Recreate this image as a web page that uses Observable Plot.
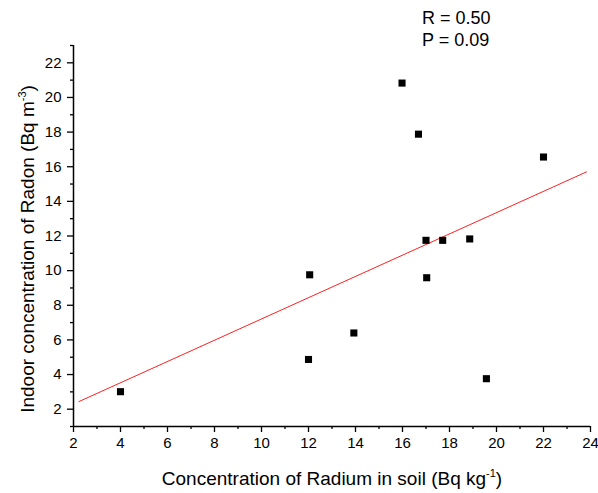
<!DOCTYPE html>
<html>
<head>
<meta charset="utf-8">
<script src="https://cdn.jsdelivr.net/npm/d3@7"></script>
<script src="https://cdn.jsdelivr.net/npm/@observablehq/plot@0.6"></script>
<style>
  html, body { margin: 0; padding: 0; background: #fff; }
  #chart svg { display: block; }
</style>
</head>
<body>
<div id="chart"></div>
<script>
// Concentration of Radium in soil (Bq kg-1)
const radium = [4.0, 12.0, 12.05, 13.93, 15.98, 16.68, 17.0, 17.03, 17.71, 18.86, 19.57, 22.0];
// Indoor concentration of Radon (Bq m-3)
const radon  = [3.01, 4.87, 9.76, 6.40, 20.83, 17.88, 11.75, 9.59, 11.75, 11.83, 3.76, 16.56];

// Linear fit drawn in the reference
const fitSlope = 0.614;
const fitIntercept = 1.07;
const fitXRange = [2.23, 23.83];

// Statistics annotation
const statLabels = ["R", "P"];
const statValues = ["0.50", "0.09"];

// Tick values
const xMajorTicks = [2, 4, 6, 8, 10, 12, 14, 16, 18, 20, 22, 24];
const xMinorTicks = [3, 5, 7, 9, 11, 13, 15, 17, 19, 21, 23];
const yMajorTicks = [2, 4, 6, 8, 10, 12, 14, 16, 18, 20, 22];
const yMinorTicks = [1, 3, 5, 7, 9, 11, 13, 15, 17, 19, 21, 23];

const points = radium.map((x, i) => ({x, y: radon[i]}));
const fitLine = fitXRange.map(x => ({x, y: fitIntercept + fitSlope * x}));

const W = 598, H = 493;
const mL = 73, mR = 8, mT = 45, mB = 67;

const plot = Plot.plot({
  width: W,
  height: H,
  marginLeft: mL,
  marginRight: mR,
  marginTop: mT,
  marginBottom: mB,
  x: {domain: [2, 24]},
  y: {domain: [1, 23]},
  style: {fontFamily: "'Liberation Sans', Arial, sans-serif", fontSize: "15px", color: "#000", background: "#fff"},
  marks: [
    Plot.axisX({ticks: xMajorTicks, tickSize: 6, tickPadding: 5, fontSize: 15, label: null, strokeWidth: 1.3}),
    Plot.axisX({ticks: xMinorTicks, tickSize: 3, tickFormat: () => "", label: null, strokeWidth: 1.3}),
    Plot.axisY({ticks: yMajorTicks, tickSize: 6, tickPadding: 6, fontSize: 15, label: null, strokeWidth: 1.3}),
    Plot.axisY({ticks: yMinorTicks, tickSize: 3, tickFormat: () => "", label: null, strokeWidth: 1.3}),
    Plot.ruleX([2], {y1: 1, y2: 23, stroke: "#000", strokeWidth: 1.5}),
    Plot.ruleY([1], {x1: 2, x2: 24, stroke: "#000", strokeWidth: 1.5}),
    Plot.line(fitLine, {x: "x", y: "y", stroke: "#ff2020", strokeWidth: 1}),
    Plot.dot(points, {x: "x", y: "y", symbol: "square", r: 4, fill: "#000", stroke: "none"})
  ]
});

document.getElementById("chart").appendChild(plot);

// Axis titles with superscripts, and statistics annotation
const svg = d3.select(plot);
const font = "'Liberation Sans', Arial, sans-serif";

const xt = svg.append("text")
  .attr("x", 332)
  .attr("y", 485)
  .attr("text-anchor", "middle")
  .attr("font-family", font)
  .attr("font-size", 19)
  .attr("fill", "#000");
xt.append("tspan").text("Concentration of Radium in soil (Bq kg");
xt.append("tspan").attr("font-size", 11).attr("dy", -8).text("-1");
xt.append("tspan").attr("dy", 8).text(")");

const yt = svg.append("text")
  .attr("transform", `translate(33.5, 249) rotate(-90)`)
  .attr("text-anchor", "middle")
  .attr("font-family", font)
  .attr("font-size", 19)
  .attr("fill", "#000");
yt.append("tspan").text("Indoor concentration of Radon (Bq m");
yt.append("tspan").attr("font-size", 11).attr("dy", -8).text("-3");
yt.append("tspan").attr("dy", 8).text(")");

statLabels.forEach((lab, i) => {
  svg.append("text")
    .attr("x", 422)
    .attr("y", 23.5 + i * 22)
    .attr("text-anchor", "start")
    .attr("font-family", font)
    .attr("font-size", 18)
    .attr("fill", "#000")
    .text(`${lab} = ${statValues[i]}`);
});
</script>
</body>
</html>
